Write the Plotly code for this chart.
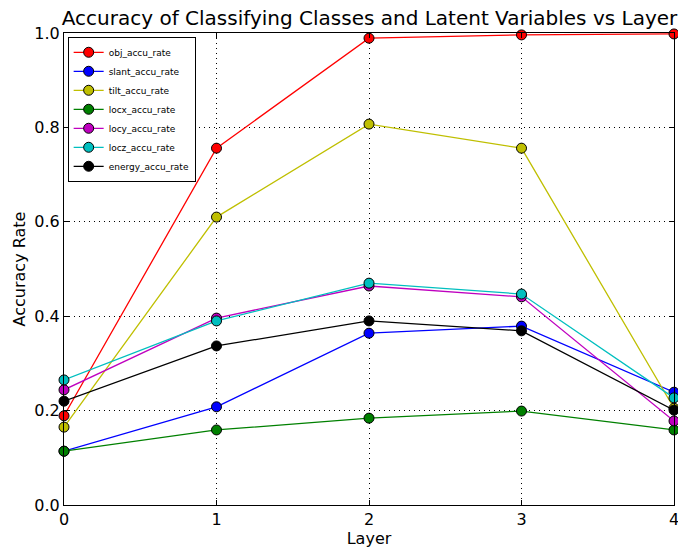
import plotly.graph_objects as go

layers = [0, 1, 2, 3, 4]
obj_accu_rate = [0.189, 0.756, 0.989, 0.996, 0.998]
slant_accu_rate = [0.114, 0.208, 0.364, 0.379, 0.239]
tilt_accu_rate = [0.165, 0.610, 0.807, 0.756, 0.205]
locx_accu_rate = [0.114, 0.159, 0.184, 0.199, 0.159]
locy_accu_rate = [0.244, 0.396, 0.464, 0.441, 0.178]
locz_accu_rate = [0.265, 0.390, 0.470, 0.447, 0.227]
energy_accu_rate = [0.220, 0.337, 0.390, 0.369, 0.201]

series = [
    ("obj_accu_rate", obj_accu_rate, "#ff0000"),
    ("slant_accu_rate", slant_accu_rate, "#0000ff"),
    ("tilt_accu_rate", tilt_accu_rate, "#bfbf00"),
    ("locx_accu_rate", locx_accu_rate, "#008000"),
    ("locy_accu_rate", locy_accu_rate, "#bf00bf"),
    ("locz_accu_rate", locz_accu_rate, "#00bfbf"),
    ("energy_accu_rate", energy_accu_rate, "#000000"),
]

fig = go.Figure()
for name, vals, col in series:
    fig.add_trace(go.Scatter(
        x=layers, y=vals, name=name, mode="lines+markers",
        line=dict(color=col, width=1.3),
        marker=dict(color=col, size=10, line=dict(color="black", width=1)),
        cliponaxis=False,
    ))

axis_common = dict(
    showline=True, linecolor="black", linewidth=1.2, mirror="ticks",
    ticks="inside", ticklen=5, tickcolor="black",
    showgrid=True, gridcolor="black", griddash="1px,4px", gridwidth=1,
    zeroline=False,
    tickfont=dict(size=16, color="black"),
    ticklabeloverflow="allow",
    automargin=False,
)

fig.update_layout(
    width=678, height=550,
    margin=dict(l=64, r=4, t=33, b=45, autoexpand=False),
    paper_bgcolor="white", plot_bgcolor="white",
    font=dict(family="DejaVu Sans", color="black"),
    title=dict(text="Accuracy of Classifying Classes and Latent Variables vs Layer",
               font=dict(size=20, color="black"), x=0.545, xanchor="center",
               y=0.98, yanchor="top"),
    xaxis=dict(range=[0, 4], tickvals=[0, 1, 2, 3, 4],
               title=dict(text="Layer", font=dict(size=16), standoff=4), **axis_common),
    yaxis=dict(range=[0, 1.0], tickvals=[0, 0.2, 0.4, 0.6, 0.8, 1.0],
               ticktext=["0.0", "0.2", "0.4", "0.6", "0.8", "1.0"],
               title=dict(text="Accuracy Rate", font=dict(size=16), standoff=4), **axis_common),
    legend=dict(x=0.006, y=0.992, xanchor="left", yanchor="top",
                bgcolor="white", bordercolor="black", borderwidth=1,
                font=dict(size=9, color="black"), tracegroupgap=0,
                itemwidth=30),
    showlegend=True,
)

fig.write_html("out.html", config={"displayModeBar": False},
               post_script="document.body.style.margin='0';")
